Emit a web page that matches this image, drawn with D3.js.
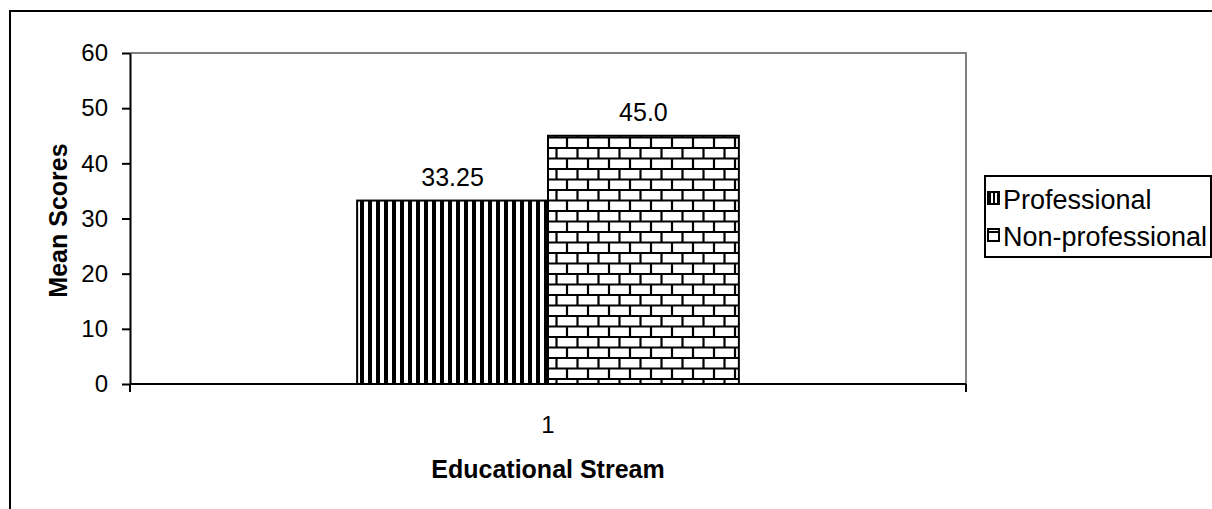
<!DOCTYPE html>
<html>
<head>
<meta charset="utf-8">
<script src="https://cdn.jsdelivr.net/npm/d3@7"></script>
<style>
  body { margin: 0; background: #fff; }
  svg { display: block; font-family: "Liberation Sans", Arial, sans-serif; }
</style>
</head>
<body>
<div id="chart"></div>
<script>
// chart data
const categories = ["1"];
const series = ["Professional", "Non-professional"];
const values = [33.25, 45.0];
const valueLabels = ["33.25", "45.0"];
const yTicks = [0, 10, 20, 30, 40, 50, 60];

const width = 1212, height = 509;
const margin = {top: 53, right: 246, bottom: 125, left: 130};

let svg = d3.select("#chart").append("svg")
    .attr("width", width)
    .attr("height", height);

// patterns for the bars and legend keys
let defs = svg.append("defs");
let stripes = defs.append("pattern").attr("id", "stripes")
    .attr("patternUnits", "userSpaceOnUse").attr("width", 8).attr("height", 8);
stripes.append("rect").attr("width", 8).attr("height", 8).attr("fill", "#fff");
stripes.append("rect").attr("x", 0).attr("width", 4).attr("height", 8).attr("fill", "#000");

let bricks = defs.append("pattern").attr("id", "bricks")
    .attr("patternUnits", "userSpaceOnUse").attr("width", 21).attr("height", 21);
bricks.append("rect").attr("width", 21).attr("height", 21).attr("fill", "#fff");
bricks.append("path")
    .attr("d", "M0,1 H21 M0,11.5 H21 M10.5,1 V11.5 M0,11.5 V21 M21,11.5 V21")
    .attr("stroke", "#000").attr("stroke-width", 2.2).attr("fill", "none");

let stripesSmall = defs.append("pattern").attr("id", "stripesSmall")
    .attr("patternUnits", "userSpaceOnUse").attr("width", 4).attr("height", 4);
stripesSmall.append("rect").attr("width", 4).attr("height", 4).attr("fill", "#fff");
stripesSmall.append("rect").attr("width", 2).attr("height", 4).attr("fill", "#000");

let bricksSmall = defs.append("pattern").attr("id", "bricksSmall")
    .attr("patternUnits", "userSpaceOnUse").attr("width", 12).attr("height", 12);
bricksSmall.append("rect").attr("width", 12).attr("height", 12).attr("fill", "#fff");
bricksSmall.append("path").attr("d", "M0,7 H12").attr("stroke", "#000").attr("stroke-width", 2);

const fills = ["url(#stripes)", "url(#bricks)"];
const keyFills = ["url(#stripesSmall)", "url(#bricksSmall)"];

// outer chart border (runs off the right and bottom edges)
svg.append("rect")
    .attr("x", 10).attr("y", 11)
    .attr("width", 1400).attr("height", 700)
    .attr("fill", "none").attr("stroke", "#000").attr("stroke-width", 2);

// scales
let x0 = d3.scaleBand()
    .domain(categories)
    .range([margin.left, width - margin.right])
    .padding(0);
let x1 = d3.scaleBand()
    .domain(series)
    .range([0, x0.bandwidth()])
    .paddingInner(0)
    .paddingOuter(1.19);
let y = d3.scaleLinear()
    .domain([0, 60])
    .range([height - margin.bottom, margin.top]);

// plot area border (grey, top and right)
svg.append("path")
    .attr("d", "M" + margin.left + "," + y(60) + " H" + (width - margin.right) + " V" + y(0))
    .attr("fill", "none").attr("stroke", "#808080").attr("stroke-width", 2);

// bars
let group = svg.append("g").attr("id", "bars");
categories.forEach(cat => {
    group.selectAll("rect.bar").data(values).enter().append("rect")
        .attr("class", "bar")
        .attr("x", (d, i) => x0(cat) + x1(series[i]))
        .attr("y", d => y(d))
        .attr("width", x1.bandwidth())
        .attr("height", d => y(0) - y(d))
        .attr("fill", (d, i) => fills[i])
        .attr("stroke", "#000")
        .attr("stroke-width", 2);
    group.selectAll("text.val").data(values).enter().append("text")
        .attr("class", "val")
        .attr("x", (d, i) => x0(cat) + x1(series[i]) + x1.bandwidth() / 2)
        .attr("y", d => y(d) - 15)
        .attr("text-anchor", "middle")
        .style("font-size", "25px")
        .text((d, i) => valueLabels[i]);
});

// y axis
let yAxis = d3.axisLeft(y).tickValues(yTicks).tickSize(8).tickSizeOuter(0).tickPadding(14);
let yAxisG = svg.append("g")
    .attr("transform", "translate(" + margin.left + ",0)")
    .call(yAxis);
yAxisG.select(".domain").attr("stroke", "#000").attr("stroke-width", 2);
yAxisG.selectAll(".tick line").attr("stroke", "#000").attr("stroke-width", 2);
yAxisG.selectAll(".tick text").style("font-size", "24px").attr("fill", "#000")
    .style("font-family", "Liberation Sans, Arial, sans-serif");

// x axis with boundary ticks
let xAxisG = svg.append("g").attr("transform", "translate(0," + y(0) + ")");
xAxisG.append("line")
    .attr("x1", x0.range()[0]).attr("x2", x0.range()[1])
    .attr("stroke", "#000").attr("stroke-width", 2);
xAxisG.selectAll("line.tick").data([x0.range()[0], x0.range()[1]]).enter().append("line")
    .attr("class", "tick")
    .attr("x1", d => d).attr("x2", d => d)
    .attr("y1", 0).attr("y2", 8)
    .attr("stroke", "#000").attr("stroke-width", 2);
xAxisG.selectAll("text.cat").data(categories).enter().append("text")
    .attr("class", "cat")
    .attr("x", d => x0(d) + x0.bandwidth() / 2)
    .attr("y", 49)
    .attr("text-anchor", "middle")
    .style("font-size", "24px")
    .text(d => d);

// axis titles
svg.append("text")
    .attr("x", x0(categories[0]) + x0.bandwidth() / 2)
    .attr("y", 478)
    .attr("text-anchor", "middle")
    .style("font-size", "25px").style("font-weight", "bold")
    .text("Educational Stream");
svg.append("text")
    .attr("transform", "translate(67," + (y(30) + 2) + ") rotate(-90)")
    .attr("text-anchor", "middle")
    .style("font-size", "25px").style("font-weight", "bold")
    .text("Mean Scores");

// legend
let legend = svg.append("g").attr("transform", "translate(985,176)");
legend.append("rect")
    .attr("width", 226).attr("height", 81)
    .attr("fill", "#fff").attr("stroke", "#000").attr("stroke-width", 2);
let items = legend.selectAll("g.item").data(series).enter().append("g")
    .attr("class", "item")
    .attr("transform", (d, i) => "translate(0," + (24 + i * 37) + ")");
items.append("rect")
    .attr("x", 3).attr("y", -8)
    .attr("width", 11).attr("height", 12)
    .attr("fill", (d, i) => keyFills[i])
    .attr("stroke", "#000").attr("stroke-width", 2);
items.append("text")
    .attr("x", 18).attr("y", 9)
    .style("font-size", "27px")
    .text(d => d);
</script>
</body>
</html>
